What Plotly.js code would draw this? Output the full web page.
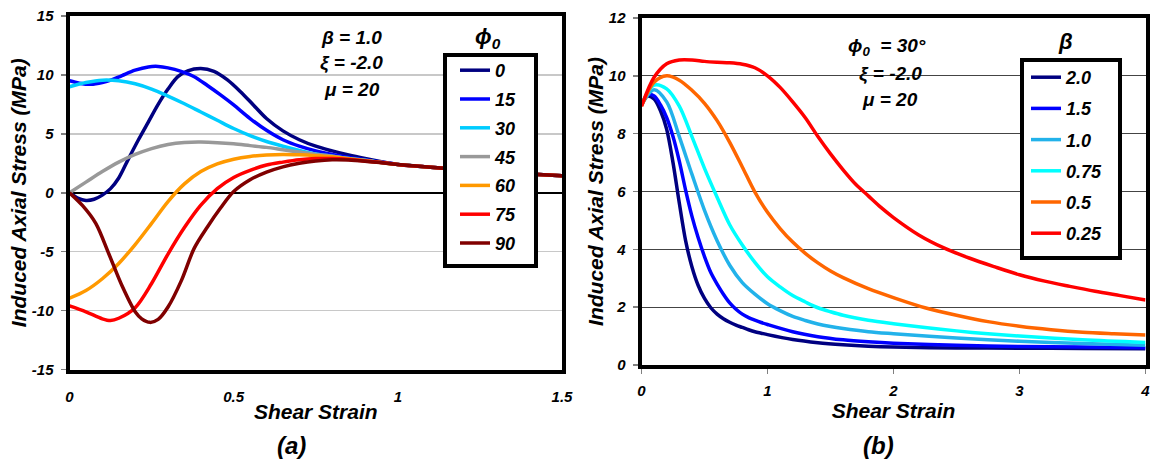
<!DOCTYPE html>
<html>
<head>
<meta charset="utf-8">
<script src="https://cdn.plot.ly/plotly-3.0.1.min.js"></script>
<style>html,body{margin:0;padding:0;background:#fff;}#chart{width:1157px;height:463px;}</style>
</head>
<body>
<div id="chart"></div>
<script>
// ---------- Panel (a): phi0 series, beta = 1.0 ----------
const phiNames = ['0', '15', '30', '45', '60', '75', '90'];
const phiColors = ['#000080', '#0000ff', '#00ccff', '#999999', '#ff9900', '#ff0000', '#800000'];
const tailX = [1.1, 1.2, 1.3, 1.4, 1.5];
const tailY = [2.17, 1.96, 1.78, 1.6, 1.44];

const phi0X = [0, 0.025, 0.05, 0.075, 0.1, 0.125, 0.15, 0.18, 0.21, 0.24, 0.27, 0.3, 0.33, 0.36, 0.4, 0.44, 0.48, 0.52, 0.56, 0.6, 0.65, 0.7, 0.75, 0.8, 0.85, 0.9, 0.95, 1.0];
const phi0Y = [0, -0.45, -0.65, -0.55, -0.2, 0.35, 1.25, 2.9, 4.5, 6.0, 7.5, 8.8, 9.85, 10.35, 10.55, 10.3, 9.6, 8.6, 7.45, 6.3, 5.25, 4.5, 3.95, 3.55, 3.2, 2.9, 2.63, 2.4];
const phi15X = [0, 0.03, 0.065, 0.1, 0.13, 0.16, 0.2, 0.24, 0.27, 0.3, 0.34, 0.38, 0.42, 0.46, 0.5, 0.55, 0.6, 0.65, 0.7, 0.75, 0.8, 0.85, 0.9, 0.95, 1.0];
const phi15Y = [9.5, 9.3, 9.2, 9.35, 9.6, 9.95, 10.4, 10.68, 10.72, 10.6, 10.3, 9.85, 9.1, 8.3, 7.45, 6.3, 5.3, 4.5, 3.95, 3.55, 3.25, 3.0, 2.8, 2.6, 2.4];
const phi30X = [0, 0.05, 0.1, 0.15, 0.2, 0.25, 0.3, 0.35, 0.4, 0.45, 0.5, 0.55, 0.6, 0.65, 0.7, 0.75, 0.8, 0.85, 0.9, 0.95, 1.0];
const phi30Y = [9.0, 9.35, 9.55, 9.5, 9.25, 8.8, 8.2, 7.55, 6.85, 6.15, 5.45, 4.85, 4.35, 3.95, 3.6, 3.3, 3.1, 2.9, 2.75, 2.57, 2.4];
const phi45X = [0, 0.05, 0.1, 0.15, 0.2, 0.25, 0.3, 0.35, 0.4, 0.45, 0.5, 0.55, 0.6, 0.65, 0.7, 0.75, 0.8, 0.85, 0.9, 0.95, 1.0];
const phi45Y = [0, 0.9, 1.8, 2.6, 3.25, 3.75, 4.1, 4.27, 4.3, 4.25, 4.15, 4.0, 3.85, 3.65, 3.45, 3.25, 3.1, 2.9, 2.75, 2.57, 2.4];
const phi60X = [0, 0.05, 0.1, 0.15, 0.2, 0.25, 0.3, 0.35, 0.4, 0.45, 0.5, 0.55, 0.6, 0.65, 0.7, 0.75, 0.8, 0.85, 0.9, 0.95, 1.0];
const phi60Y = [-8.95, -8.3, -7.3, -6.0, -4.4, -2.6, -0.75, 0.75, 1.8, 2.45, 2.85, 3.08, 3.2, 3.25, 3.22, 3.15, 3.05, 2.88, 2.72, 2.56, 2.4];
const phi75X = [0, 0.05, 0.1, 0.125, 0.15, 0.2, 0.25, 0.3, 0.35, 0.4, 0.45, 0.5, 0.55, 0.6, 0.65, 0.7, 0.75, 0.8, 0.85, 0.9, 0.95, 1.0];
const phi75Y = [-9.6, -10.1, -10.7, -10.85, -10.65, -9.75, -7.7, -5.2, -2.95, -1.05, 0.35, 1.3, 1.9, 2.35, 2.6, 2.8, 2.9, 2.9, 2.82, 2.7, 2.56, 2.4];
const phi90X = [0, 0.04, 0.08, 0.12, 0.16, 0.2, 0.22, 0.245, 0.27, 0.3, 0.34, 0.38, 0.42, 0.46, 0.5, 0.55, 0.6, 0.65, 0.7, 0.75, 0.8, 0.85, 0.9, 0.95, 1.0];
const phi90Y = [0, -1.1, -2.6, -5.2, -7.9, -10.1, -10.7, -11.0, -10.75, -9.7, -7.5, -4.7, -2.9, -1.3, 0.1, 1.1, 1.75, 2.2, 2.5, 2.7, 2.8, 2.78, 2.68, 2.54, 2.4];

// ---------- Panel (b): beta series, phi0 = 30 ----------
const betaNames = ['2.0', '1.5', '1.0', '0.75', '0.5', '0.25'];
const betaColors = ['#000080', '#0000ff', '#22b2ea', '#00ffff', '#ff6600', '#ff0000'];
const b20X = [0, 0.05, 0.1, 0.15, 0.2, 0.25, 0.3, 0.35, 0.4, 0.45, 0.5, 0.55, 0.6, 0.65, 0.7, 0.75, 0.8, 0.85, 0.9, 0.95, 1.0, 1.2, 1.4, 1.6, 1.8, 2.0, 2.5, 3.0, 3.5, 4.0];
const b20Y = [9.0, 9.3, 9.2, 8.8, 8.15, 7.0, 5.6, 4.3, 3.4, 2.75, 2.3, 1.98, 1.76, 1.6, 1.48, 1.38, 1.3, 1.22, 1.15, 1.1, 1.05, 0.88, 0.77, 0.7, 0.65, 0.62, 0.59, 0.58, 0.57, 0.56];
const b15X = [0, 0.05, 0.1, 0.15, 0.2, 0.25, 0.3, 0.35, 0.4, 0.45, 0.5, 0.55, 0.6, 0.65, 0.7, 0.75, 0.8, 0.85, 0.9, 0.95, 1.0, 1.2, 1.4, 1.6, 1.8, 2.0, 2.5, 3.0, 3.5, 4.0];
const b15Y = [9.0, 9.35, 9.3, 9.0, 8.55, 7.9, 7.05, 6.05, 5.15, 4.4, 3.75, 3.2, 2.8, 2.45, 2.15, 1.93, 1.76, 1.64, 1.55, 1.47, 1.4, 1.15, 0.98, 0.87, 0.8, 0.75, 0.68, 0.64, 0.62, 0.6];
const b10X = [0, 0.1, 0.2, 0.3, 0.4, 0.5, 0.6, 0.7, 0.8, 0.9, 1.0, 1.1, 1.2, 1.3, 1.4, 1.5, 1.6, 1.8, 2.0, 2.5, 3.0, 3.5, 4.0];
const b10Y = [9.0, 9.52, 9.1, 7.9, 6.6, 5.35, 4.3, 3.45, 2.85, 2.45, 2.12, 1.88, 1.68, 1.54, 1.42, 1.33, 1.26, 1.15, 1.08, 0.93, 0.82, 0.74, 0.68];
const b075X = [0, 0.1, 0.2, 0.3, 0.4, 0.5, 0.6, 0.7, 0.8, 0.9, 1.0, 1.1, 1.2, 1.3, 1.4, 1.5, 1.6, 1.8, 2.0, 2.25, 2.5, 2.75, 3.0, 3.5, 4.0];
const b075Y = [9.0, 9.68, 9.55, 8.95, 7.9, 6.8, 5.8, 4.85, 4.15, 3.55, 3.05, 2.7, 2.4, 2.18, 1.98, 1.84, 1.72, 1.55, 1.43, 1.3, 1.18, 1.08, 1.0, 0.87, 0.78];
const b05X = [0, 0.1, 0.2, 0.3, 0.4, 0.5, 0.6, 0.7, 0.8, 0.9, 1.0, 1.1, 1.2, 1.3, 1.4, 1.5, 1.6, 1.8, 2.0, 2.25, 2.5, 2.75, 3.0, 3.25, 3.5, 3.75, 4.0];
const b05Y = [8.95, 9.78, 10.0, 9.85, 9.5, 9.05, 8.45, 7.7, 6.85, 5.98, 5.28, 4.72, 4.25, 3.86, 3.53, 3.25, 3.02, 2.64, 2.33, 1.98, 1.72, 1.5, 1.34, 1.22, 1.13, 1.08, 1.04];
const b025X = [0, 0.1, 0.2, 0.3, 0.4, 0.5, 0.6, 0.7, 0.8, 0.9, 1.0, 1.1, 1.2, 1.3, 1.4, 1.5, 1.6, 1.7, 1.8, 1.9, 2.0, 2.2, 2.4, 2.6, 2.8, 3.0, 3.2, 3.4, 3.6, 3.8, 4.0];
const b025Y = [8.95, 9.95, 10.42, 10.55, 10.55, 10.5, 10.47, 10.45, 10.4, 10.28, 10.0, 9.6, 9.1, 8.55, 7.9, 7.3, 6.75, 6.25, 5.85, 5.45, 5.1, 4.5, 4.05, 3.7, 3.4, 3.12, 2.9, 2.72, 2.55, 2.4, 2.25];

// ticks
const aYTicks = [-15, -10, -5, 0, 5, 10, 15];
const aYText = ['-15', '-10', '-5', '0', '5', '10', '15'];
const aXTicks = [0, 0.5, 1, 1.5];
const aXText = ['0', '0.5', '1', '1.5'];
const bYTicks = [0, 2, 4, 6, 8, 10, 12];
const bXTicks = [0, 1, 2, 3, 4];

// ---------- build ----------
const W = 1157, H = 463;
const px = v => v / W;
const py = v => 1 - v / H;
const FAM = 'Arial, "Liberation Sans", sans-serif';
const bi = (size, color) => ({family: FAM, size: size, color: color || '#000', weight: 'bold', style: 'italic'});

const phiX = [phi0X, phi15X, phi30X, phi45X, phi60X, phi75X, phi90X];
const phiY = [phi0Y, phi15Y, phi30Y, phi45Y, phi60Y, phi75Y, phi90Y];
const betaX = [b20X, b15X, b10X, b075X, b05X, b025X];
const betaY = [b20Y, b15Y, b10Y, b075Y, b05Y, b025Y];

const traces = [];
phiNames.forEach((n, i) => {
  traces.push({
    x: phiX[i].concat(tailX), y: phiY[i].concat(tailY),
    type: 'scatter', mode: 'lines', name: n,
    line: {color: phiColors[i], width: 3.5, shape: 'spline', smoothing: 0.9},
    xaxis: 'x', yaxis: 'y', legend: 'legend', legendgroup: 'a' + i
  });
});
betaNames.forEach((n, i) => {
  traces.push({
    x: betaX[i], y: betaY[i],
    type: 'scatter', mode: 'lines', name: n,
    line: {color: betaColors[i], width: 3.5, shape: 'spline', smoothing: 0.9},
    xaxis: 'x2', yaxis: 'y2', legend: 'legend2', legendgroup: 'b' + i
  });
});

const axBase = {
  showline: true, mirror: true, linewidth: 4, linecolor: '#000',
  tickfont: bi(15), fixedrange: true
};

const layout = {
  width: W, height: H,
  margin: {l: 0, r: 0, t: 0, b: 0},
  paper_bgcolor: '#fff', plot_bgcolor: '#fff',
  showlegend: true,
  xaxis: Object.assign({}, axBase, {
    domain: [px(69.5), px(562)], range: [0, 1.5],
    tickmode: 'array', tickvals: aXTicks, ticktext: aXText,
    ticks: '', showgrid: false, zeroline: false, ticklabelstandoff: 10,
    title: {text: 'Shear Strain', font: bi(21), standoff: 2},
    anchor: 'y'
  }),
  yaxis: Object.assign({}, axBase, {
    domain: [py(369.5), py(16)], range: [-15, 15],
    tickmode: 'array', tickvals: aYTicks, ticktext: aYText,
    ticks: 'outside', ticklen: 5, tickcolor: '#808080', tickwidth: 1.5,
    showgrid: true, gridcolor: '#c8c8c8', gridwidth: 1.5,
    zeroline: true, zerolinecolor: '#000', zerolinewidth: 1.5,
    ticklabelstandoff: 4,
    title: {text: 'Induced Axial Stress (MPa)', font: bi(21), standoff: 0},
    anchor: 'x'
  }),
  xaxis2: Object.assign({}, axBase, {
    domain: [px(641.5), px(1145.5)], range: [0, 4],
    tickmode: 'array', tickvals: bXTicks,
    ticks: 'outside', ticklen: 5, tickcolor: '#808080', tickwidth: 1.5,
    showgrid: false, zeroline: false, ticklabelstandoff: 4,
    title: {text: 'Shear Strain', font: bi(21), standoff: 2},
    anchor: 'y2'
  }),
  yaxis2: Object.assign({}, axBase, {
    domain: [py(365), py(18)], range: [0, 12],
    tickmode: 'array', tickvals: bYTicks,
    ticks: 'outside', ticklen: 5, tickcolor: '#808080', tickwidth: 1.5,
    showgrid: true, gridcolor: '#444', gridwidth: 1.3,
    zeroline: false, ticklabelstandoff: 4,
    title: {text: 'Induced Axial Stress (MPa)', font: bi(21), standoff: 0},
    anchor: 'x2'
  }),
  legend: {
    x: px(455), y: py(52), xanchor: 'left', yanchor: 'top',
    xref: 'paper', yref: 'paper',
    bgcolor: 'rgba(0,0,0,0)', borderwidth: 0, font: bi(18),
    tracegroupgap: 2.4, itemwidth: 30, itemclick: false, itemdoubleclick: false
  },
  legend2: {
    x: px(1026), y: py(59), xanchor: 'left', yanchor: 'top',
    xref: 'paper', yref: 'paper',
    bgcolor: 'rgba(0,0,0,0)', borderwidth: 0, font: bi(18),
    tracegroupgap: 4.8, itemwidth: 30, itemclick: false, itemdoubleclick: false
  },
  shapes: [
    {type: 'rect', xref: 'paper', yref: 'paper', x0: px(305), x1: px(405), y0: py(84), y1: py(66),
     fillcolor: '#fff', line: {width: 0}, layer: 'between'},
    {type: 'rect', xref: 'paper', yref: 'paper', x0: px(838), x1: px(950), y0: py(84), y1: py(66),
     fillcolor: '#fff', line: {width: 0}, layer: 'between'},
    {type: 'rect', xref: 'paper', yref: 'paper', x0: px(445), x1: px(536), y0: py(266), y1: py(55),
     fillcolor: '#fff', line: {color: '#000', width: 4}, layer: 'above'},
    {type: 'rect', xref: 'paper', yref: 'paper', x0: px(1022), x1: px(1120), y0: py(258), y1: py(60),
     fillcolor: '#fff', line: {color: '#000', width: 4}, layer: 'above'}
  ],
  annotations: [
    {text: 'β = 1.0', x: px(352), y: py(37)},
    {text: 'ξ = -2.0', x: px(352), y: py(63)},
    {text: 'μ = 20', x: px(352), y: py(89)},
    {text: 'ϕ<sub>0</sub>  = 30°', x: px(887), y: py(47)},
    {text: 'ξ = -2.0', x: px(890), y: py(74)},
    {text: 'μ = 20', x: px(890), y: py(100)},
    {text: 'ϕ<sub>0</sub>', x: px(488), y: py(38), font: bi(22)},
    {text: 'β', x: px(1065), y: py(42), font: bi(22)},
    {text: '(a)', x: px(291), y: py(445), font: bi(24)},
    {text: '(b)', x: px(878), y: py(445), font: bi(24)}
  ].map(a => Object.assign({xref: 'paper', yref: 'paper', xanchor: 'center', yanchor: 'middle',
    showarrow: false, font: bi(19)}, a))
};

Plotly.newPlot('chart', traces, layout, {displayModeBar: false, staticPlot: true});
</script>
</body>
</html>
